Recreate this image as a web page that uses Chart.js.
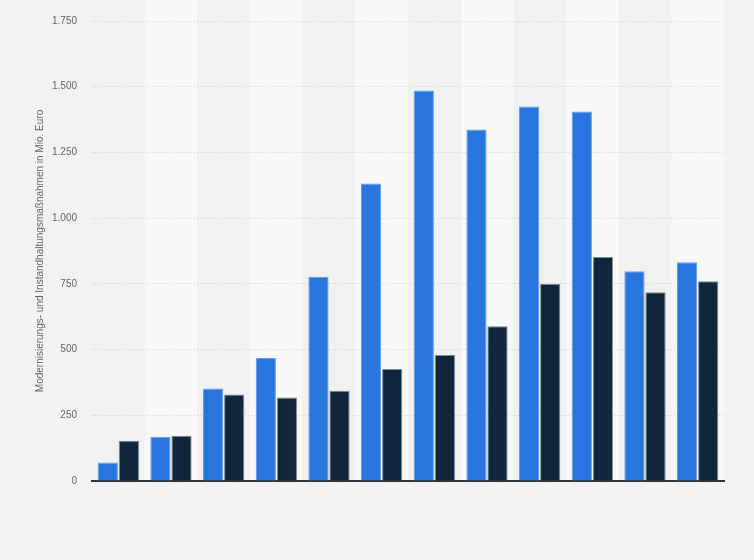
<!DOCTYPE html>
<html>
<head>
<meta charset="utf-8">
<script src="https://cdn.jsdelivr.net/npm/chart.js@4"></script>
<style>
html,body{margin:0;padding:0;background:#f2f2f2;}
#wrap{width:754px;height:560px;}
</style>
</head>
<body>
<div id="wrap"><canvas id="c" width="754" height="560"></canvas></div>
<script>
const categories = ['1','2','3','4','5','6','7','8','9','10','11','12'];
const seriesA = [70, 168, 352, 468, 777, 1132, 1486, 1337, 1425, 1406, 798, 832];
const seriesB = [153, 172, 329, 318, 343, 426, 479, 589, 750, 852, 718, 760];
const yTicks = [0, 250, 500, 750, 1000, 1250, 1500, 1750];
const yTitle = 'Modernisierungs- und Instandhaltungsmaßnahmen in Mio. Euro';

const bgPlugin = {
  id: 'colBg',
  beforeDraw(chart) {
    const ctx = chart.ctx;
    const area = chart.chartArea;
    const xs = chart.scales.x;
    ctx.save();
    ctx.fillStyle = '#f2f2f2';
    ctx.fillRect(0, 0, chart.width, chart.height);
    const n = categories.length;
    const w = (area.right - area.left) / n;
    for (let i = 0; i < n; i++) {
      const cx = xs.getPixelForValue(i);
      ctx.fillStyle = (i % 2 === 0) ? '#f1f1f1' : '#f8f8f8';
      ctx.fillRect(cx - w / 2, 0, w, area.bottom);
    }
    ctx.restore();
  }
};

new Chart(document.getElementById('c'), {
  type: 'bar',
  data: {
    labels: categories,
    datasets: [
      { data: seriesA, backgroundColor: '#2876dd', borderColor: '#5e9be6', borderWidth: 1, categoryPercentage: 0.8, barPercentage: 0.96 },
      { data: seriesB, backgroundColor: '#0f263b', borderColor: '#7d8a97', borderWidth: 1, categoryPercentage: 0.8, barPercentage: 0.96 }
    ]
  },
  options: {
    responsive: false,
    animation: false,
    layout: { padding: { left: 0, right: 30, top: 20, bottom: 79 } },
    plugins: { legend: { display: false }, tooltip: { enabled: false } },
    scales: {
      x: {
        grid: { display: false },
        ticks: { display: false },
        border: { display: true, color: '#333333', width: 2 },
        afterFit(s) { s.height = 0; }
      },
      y: {
        min: 0, max: 1750,
        afterBuildTicks(s) { s.ticks = yTicks.map(v => ({ value: v })); },
        afterFit(s) { s.width = 92; },
        grid: { color: '#cfcfcf', drawTicks: false, lineWidth: 1 },
        border: { display: false, dash: [1, 2] },
        ticks: {
          padding: 15,
          color: '#666666',
          font: { family: 'Arial, "Liberation Sans", sans-serif', size: 10 },
          callback: v => v.toLocaleString('de-DE')
        },
        title: {
          display: true,
          text: yTitle,
          color: '#666666',
          font: { family: 'Arial, "Liberation Sans", sans-serif', size: 10 },
          padding: { top: 34, bottom: 0 }
        }
      }
    }
  },
  plugins: [bgPlugin]
});
</script>
</body>
</html>
